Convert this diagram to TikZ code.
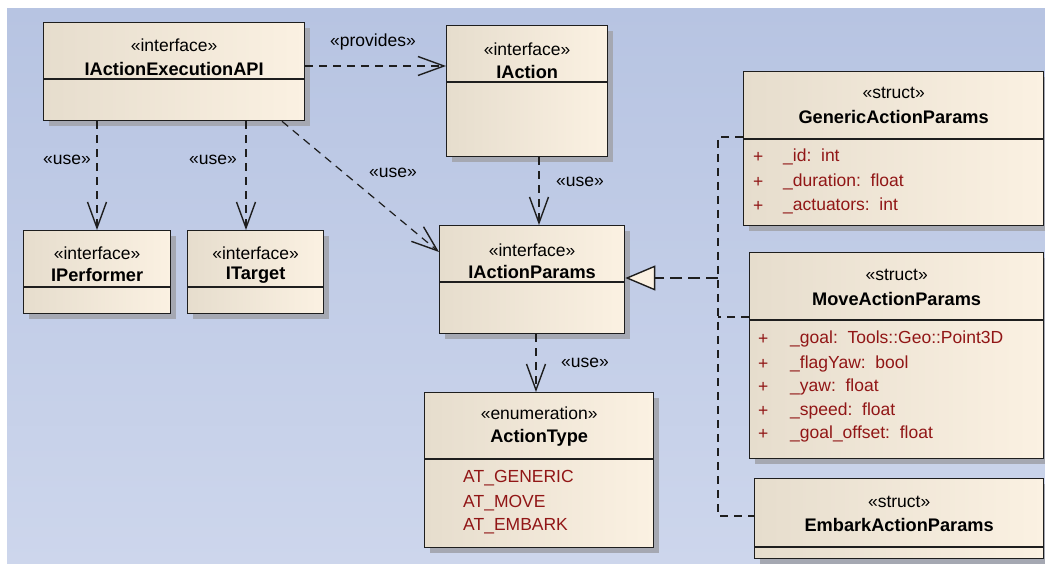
\documentclass[tikz,border=0pt]{standalone}
\usepackage{fontspec}
\setmainfont{Liberation Sans}
\usetikzlibrary{arrows.meta,shadows}
\definecolor{bgT}{RGB}{183,196,226}
\definecolor{bgB}{RGB}{205,214,236}
\definecolor{boxL}{RGB}{230,221,205}
\definecolor{boxR}{RGB}{251,241,226}
\definecolor{shadowC}{RGB}{165,168,178}
\definecolor{lineC}{RGB}{30,30,30}
\definecolor{attrC}{RGB}{145,22,22}
\tikzset{
  cls/.style={draw=lineC, line width=1.3pt, left color=boxL, right color=boxR,
    inner sep=0pt, anchor=north west,
    general shadow={shadow xshift=5pt, shadow yshift=-5pt, fill=shadowC, draw=none}},
  sepline/.style={draw=lineC, line width=1.2pt},
  stereo/.style={font=\fontsize{17.5}{20}\selectfont, text=black, inner sep=0pt},
  title/.style={font=\fontsize{18.2}{21}\selectfont\bfseries, text=black, inner sep=0pt},
  attr/.style={font=\fontsize{17.5}{20}\selectfont, text=attrC, inner sep=0pt, anchor=west},
  lbl/.style={font=\fontsize{17.5}{20}\selectfont, text=black, inner sep=0pt},
  dep/.style={draw=lineC, line width=1.2pt, dash pattern=on 8pt off 6pt,
    -{Straight Barb[length=26pt,width=19pt,line width=1.4pt]}},
  bus/.style={draw=lineC, line width=1.2pt, dash pattern=on 8pt off 6pt},
  real/.style={draw=lineC, line width=2.4pt, dash pattern=on 12pt off 6pt,
    -{Triangle[length=30pt,width=25pt,fill=boxR,line width=1.4pt]}}
}
\newcommand\umlbox[6]{%
  \node[cls, minimum width={(#4-#2)*1pt}, minimum height={(#5-#3)*1pt}] (#1) at (#2,#3) {};
  \draw[sepline] (#1.west |- 0,#6) -- (#1.east |- 0,#6);
}
\begin{document}
\begin{tikzpicture}[x=1pt,y=-1pt]
\useasboundingbox (0,0) rectangle (1045,564);
\fill[white] (0,0) rectangle (1045,564);
\fill[top color=bgT, bottom color=bgB] (7,9) rectangle (1045,564);

% boxes
\umlbox{api}{43}{22}{304}{120}{79}
\umlbox{ia}{446}{25}{607}{156}{82}
\umlbox{ip}{439}{225}{624}{333}{282}
\umlbox{at}{424}{392}{653}{547}{459}
\umlbox{perf}{23}{230}{170}{313}{287}
\umlbox{tgt}{187}{230}{323}{313}{287}
\umlbox{gen}{743}{71}{1043}{225}{139}
\umlbox{mov}{749}{252}{1043}{458}{320}
\umlbox{emb}{754}{478}{1043}{558}{547}

% titles
\node[stereo] (api-s) at (api.north |- 0,45) {«interface»};
\node[title]  (api-t) at (api.north |- 0,69) {IActionExecutionAPI};
\node[stereo] (ia-s) at (ia.north |- 0,49) {«interface»};
\node[title]  (ia-t) at (ia.north |- 0,72) {IAction};
\node[stereo] (ip-s) at (ip.north |- 0,250) {«interface»};
\node[title]  (ip-t) at (ip.north |- 0,272) {IActionParams};
\node[stereo] (at-s) at (at.north |- 0,413) {«enumeration»};
\node[title]  (at-t) at (at.north |- 0,438) {ActionType};
\node[stereo] (perf-s) at (perf.north |- 0,253) {«interface»};
\node[title]  (perf-t) at (perf.north |- 0,275) {IPerformer};
\node[stereo] (tgt-s) at (tgt.north |- 0,253) {«interface»};
\node[title]  (tgt-t) at (tgt.north |- 0,275) {ITarget};
\node[stereo] (gen-s) at (gen.north |- 0,93) {«struct»};
\node[title]  (gen-t) at (gen.north |- 0,117) {GenericActionParams};
\node[stereo] (mov-s) at (mov.north |- 0,275) {«struct»};
\node[title]  (mov-t) at (mov.north |- 0,299) {MoveActionParams};
\node[stereo] (emb-s) at (emb.north |- 0,502) {«struct»};
\node[title]  (emb-t) at (emb.north |- 0,525) {EmbarkActionParams};

% attributes
\node[attr] (at-a1) at (463,478) {AT\_GENERIC};
\node[attr] (at-a2) at (463,503) {AT\_MOVE};
\node[attr] (at-a3) at (463,526) {AT\_EMBARK};

\node[attr] (gen-p1) at (753,157) {+};
\node[attr] (gen-a1) at (783,157) {\_id:\ \ int};
\node[attr] (gen-p2) at (753,182) {+};
\node[attr] (gen-a2) at (783,182) {\_duration:\ \ float};
\node[attr] (gen-p3) at (753,206) {+};
\node[attr] (gen-a3) at (783,206) {\_actuators:\ \ int};

\node[attr] (mov-p1) at (758,339) {+};
\node[attr] (mov-a1) at (790,339) {\_goal:\ \ Tools::Geo::Point3D};
\node[attr] (mov-p2) at (758,364) {+};
\node[attr] (mov-a2) at (790,364) {\_flagYaw:\ \ bool};
\node[attr] (mov-p3) at (758,387) {+};
\node[attr] (mov-a3) at (790,387) {\_yaw:\ \ float};
\node[attr] (mov-p4) at (758,411) {+};
\node[attr] (mov-a4) at (790,411) {\_speed:\ \ float};
\node[attr] (mov-p5) at (758,434) {+};
\node[attr] (mov-a5) at (790,434) {\_goal\_offset:\ \ float};

% dependencies
\draw[dep] (api.east |- 0,66) -- (ia.west |- 0,66);
\node[lbl] (l-prov) at (373,42) {«provides»};
\draw[dep] (api.south -| 97,0) -- (perf.north -| 97,0);
\node[lbl] (l-use1) at (67,160) {«use»};
\draw[dep] (api.south -| 246,0) -- (tgt.north -| 246,0);
\node[lbl] (l-use2) at (213,160) {«use»};
\draw[dep] (api.south -| 282,0) -- (ip.west |- 0,252);
\node[lbl] (l-use3) at (393,173) {«use»};
\draw[dep] (ia.south -| 539,0) -- (ip.north -| 539,0);
\node[lbl] (l-use4) at (580,182) {«use»};
\draw[dep] (ip.south -| 536,0) -- (at.north -| 536,0);
\node[lbl] (l-use5) at (585,363) {«use»};

% realization bus
\coordinate (busT) at (718,137);
\coordinate (busM) at (718,278);
\coordinate (busB) at (718,516);
\draw[bus] (gen.west |- busT) -- (busT) -- (busB) -- (emb.west |- busB);
\draw[bus] (mov.west |- 0,317) -- (busT |- 0,317);
\draw[real] (busM) -- (ip.east |- busM);
\end{tikzpicture}
\end{document}
